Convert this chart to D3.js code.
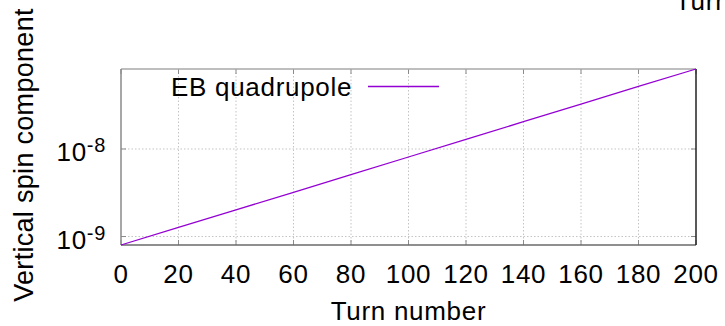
<!DOCTYPE html>
<html><head><meta charset="utf-8">
<script src="https://cdn.jsdelivr.net/npm/d3@7"></script>
<style>
html,body{margin:0;padding:0;background:#fff;}
svg{display:block;font-family:"Liberation Sans",Arial,sans-serif;}
</style></head>
<body>
<svg id="chart" width="725" height="326"></svg>
<script>
// Data
const turns = [0, 20, 40, 60, 80, 100, 120, 140, 160, 180, 200];
const spinValues = [8.0e-10, 1.27e-9, 2.02e-9, 3.2e-9, 5.1e-9, 8.1e-9, 1.29e-8, 2.05e-8, 3.25e-8, 5.2e-8, 8.2e-8];
const xTicks = [0, 20, 40, 60, 80, 100, 120, 140, 160, 180, 200];
const yTicks = [1e-9, 1e-8];
const yTickExponents = ["-9", "-8"];
const seriesName = "EB quadrupole";
const xLabel = "Turn number";
const yLabel = "Vertical spin component";
const topText = "Turn";

const svg = d3.select("#chart");
const m = {left: 121, right: 696, top: 69, bottom: 245};
const fs = 26;
const ls = "0.7px";

const x = d3.scaleLinear().domain([0, 200]).range([m.left, m.right]);
const y = d3.scaleLog().domain([spinValues[0], spinValues[spinValues.length - 1]]).range([m.bottom, m.top]);

// grid
const grid = svg.append("g").attr("stroke", "#c4c4c4").attr("stroke-width", 1).attr("stroke-dasharray", "1.5,2");
grid.selectAll(".gx").data(xTicks.slice(1, -1)).enter().append("line")
  .attr("x1", d => x(d)).attr("x2", d => x(d)).attr("y1", m.top).attr("y2", m.bottom);
grid.selectAll(".gy").data(yTicks).enter().append("line")
  .attr("y1", d => y(d)).attr("y2", d => y(d)).attr("x1", m.left).attr("x2", m.right);

// ticks (inward, mirrored)
const tk = svg.append("g").attr("stroke", "#8a8a8a").attr("stroke-width", 1);
xTicks.forEach(d => {
  tk.append("line").attr("x1", x(d)).attr("x2", x(d)).attr("y1", m.bottom).attr("y2", m.bottom - 5);
  tk.append("line").attr("x1", x(d)).attr("x2", x(d)).attr("y1", m.top).attr("y2", m.top + 5);
});
yTicks.forEach(d => {
  tk.append("line").attr("y1", y(d)).attr("y2", y(d)).attr("x1", m.left).attr("x2", m.left + 5);
  tk.append("line").attr("y1", y(d)).attr("y2", y(d)).attr("x1", m.right).attr("x2", m.right - 5);
});

// border
svg.append("line").attr("x1", m.left).attr("x2", m.right).attr("y1", m.top).attr("y2", m.top).attr("stroke", "#a8a8a8").attr("stroke-width", 1.5);
svg.append("line").attr("x1", m.left).attr("x2", m.left).attr("y1", m.top).attr("y2", m.bottom).attr("stroke", "#8a8a8a").attr("stroke-width", 1.5);
svg.append("line").attr("x1", m.left).attr("x2", m.right).attr("y1", m.bottom).attr("y2", m.bottom).attr("stroke", "#6a6a6a").attr("stroke-width", 1.5);
svg.append("line").attr("x1", m.right).attr("x2", m.right).attr("y1", m.top).attr("y2", m.bottom).attr("stroke", "#222").attr("stroke-width", 1.5);

// x tick labels
svg.append("g").selectAll("text").data(xTicks).enter().append("text")
  .attr("x", d => x(d)).attr("y", 283).attr("text-anchor", "middle")
  .attr("font-size", fs).attr("letter-spacing", ls).attr("fill", "#000").text(d => d);

// y tick labels with superscript
yTicks.forEach((d, i) => {
  const t = svg.append("text").attr("x", 106).attr("y", y(d) + 12).attr("text-anchor", "end")
    .attr("font-size", fs).attr("letter-spacing", ls).attr("fill", "#000");
  t.append("tspan").text("10");
  t.append("tspan").attr("font-size", 20).attr("dy", -9).text(yTickExponents[i]);
});

// line
const line = d3.line().x((d, i) => x(turns[i])).y(d => y(d));
svg.append("path").datum(spinValues).attr("d", line)
  .attr("fill", "none").attr("stroke", "#9400d3").attr("stroke-width", 1.3);

// legend
svg.append("text").attr("x", 171).attr("y", 96).attr("font-size", fs).attr("letter-spacing", ls).attr("fill", "#000").text(seriesName);
svg.append("line").attr("x1", 368).attr("x2", 439).attr("y1", 86.5).attr("y2", 86.5)
  .attr("stroke", "#9400d3").attr("stroke-width", 1.3);

// axis labels
svg.append("text").attr("x", (m.left + m.right) / 2).attr("y", 320).attr("text-anchor", "middle")
  .attr("font-size", fs).attr("letter-spacing", ls).attr("fill", "#000").text(xLabel);
svg.append("text").attr("transform", "translate(33,155) rotate(-90)").attr("text-anchor", "middle")
  .attr("font-size", 27).attr("letter-spacing", "0.3px").attr("fill", "#000").text(yLabel);

// cut-off text at top right
svg.append("text").attr("x", 675).attr("y", 10).attr("font-size", fs).attr("letter-spacing", ls).attr("fill", "#000").text(topText);
</script>
</body></html>
